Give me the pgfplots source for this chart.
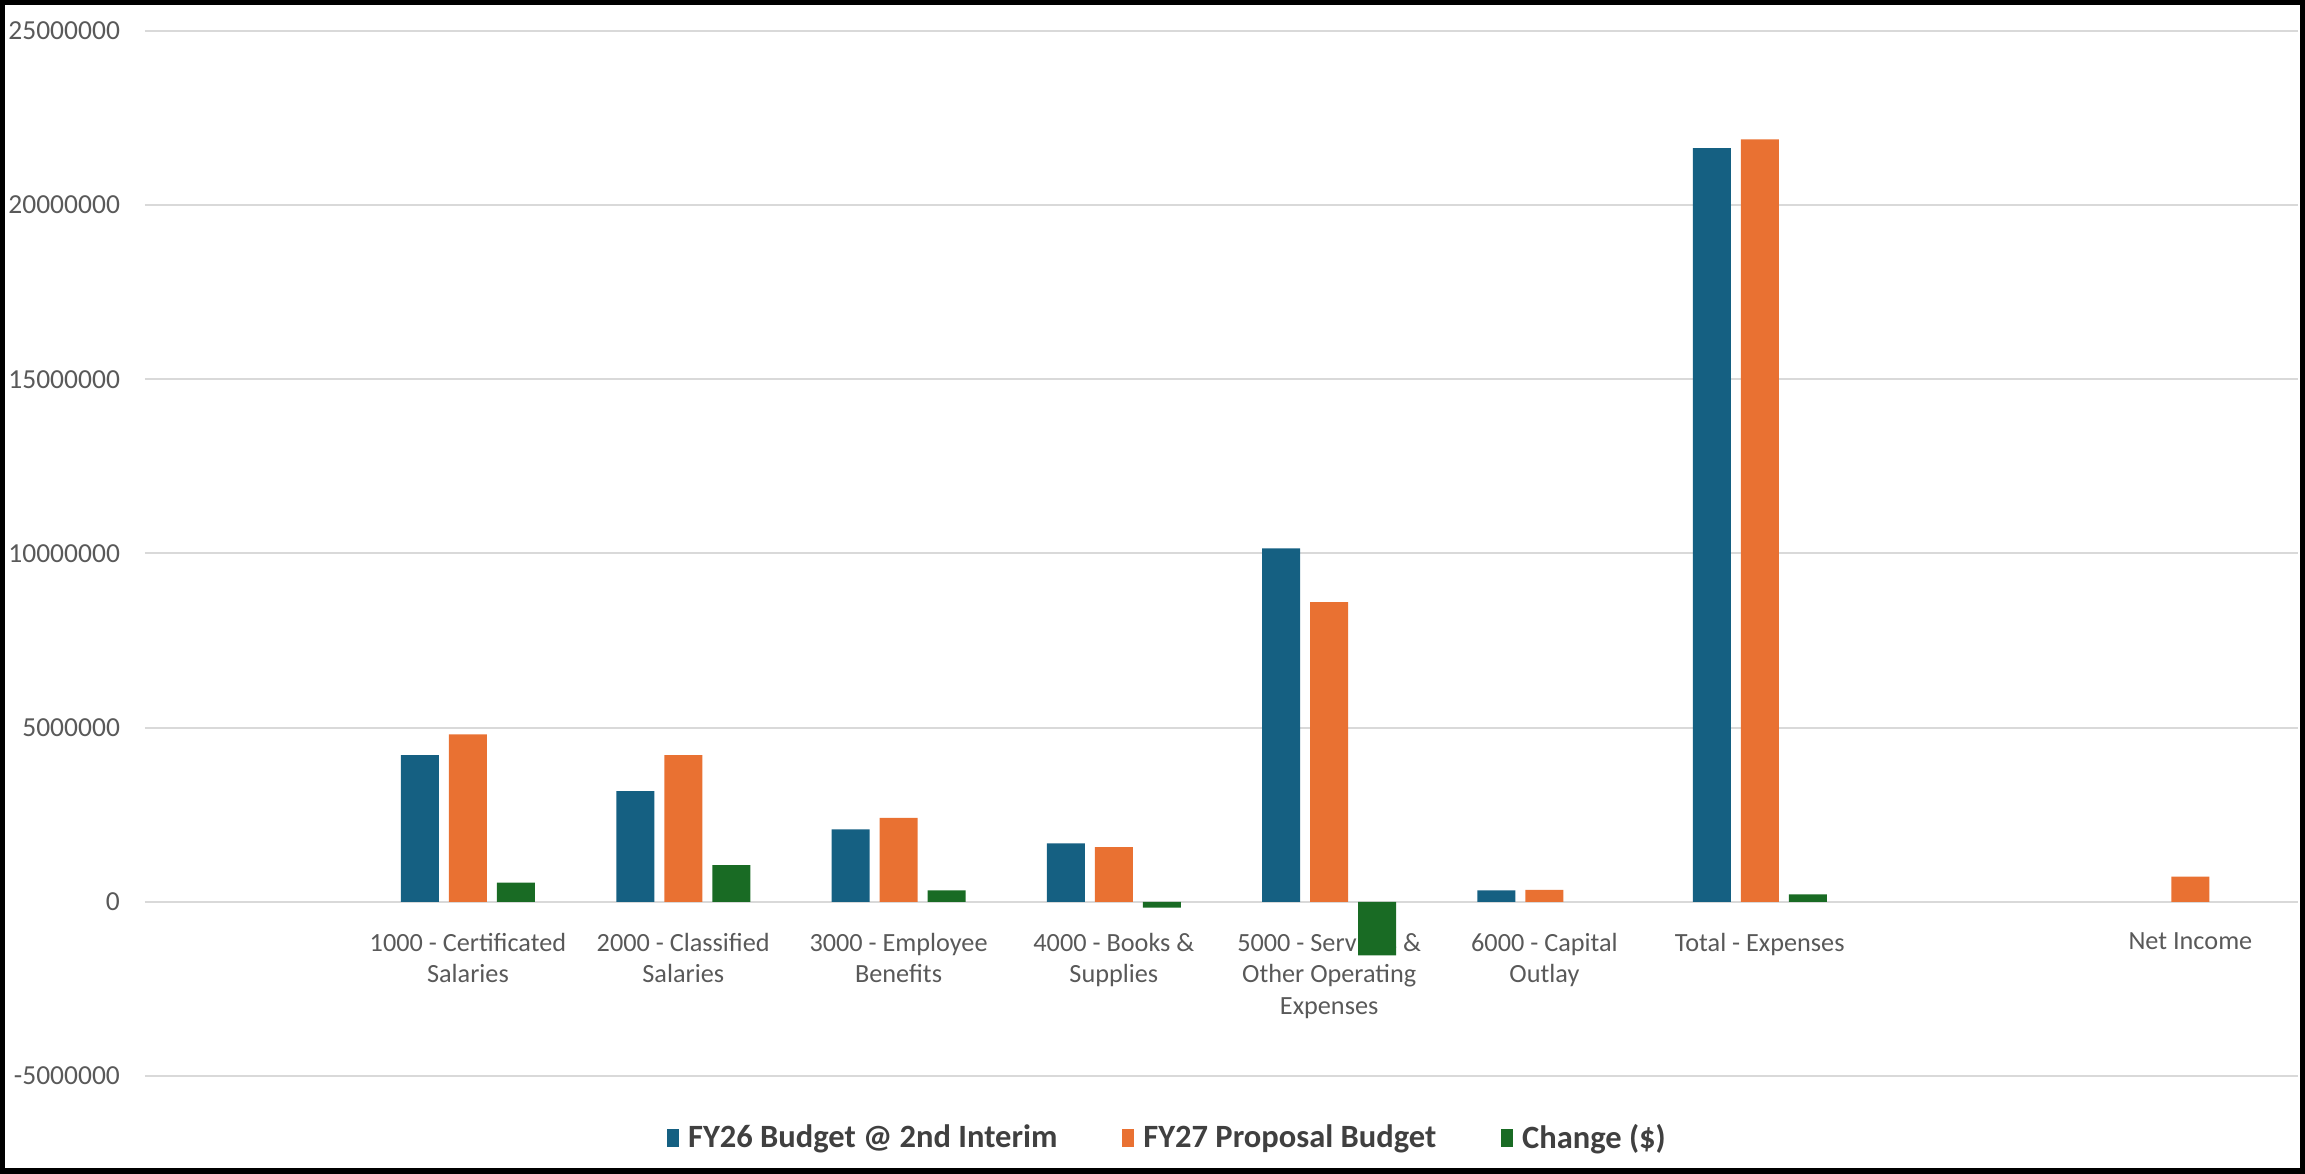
\documentclass[border=0pt]{standalone}
\usepackage{pgfplots}
\pgfplotsset{compat=1.18}
\usepackage{fontspec}
\setmainfont{Carlito}
\definecolor{cblue}{HTML}{156082}
\definecolor{corange}{HTML}{E97132}
\definecolor{cgreen}{HTML}{196B24}
\definecolor{tickgray}{HTML}{595959}
\definecolor{leggray}{HTML}{404040}
\definecolor{gridgray}{HTML}{D9D9D9}
\pgfplotsset{sqleg/.style={legend image code/.code={\fill[##1] (0pt,-3.6pt) rectangle (4.8pt,3.6pt); \path (6.4pt,0pt);}}}
\begin{document}
\begin{tikzpicture}
\begin{axis}[
  set layers=standard,
  scale only axis, width=861.2pt, height=418pt,
  ybar=4pt, bar width=15.2pt,
  xmin=-0.5, xmax=9.5,
  ymin=-5000000, ymax=25000000,
  ytick={-5000000,0,5000000,10000000,15000000,20000000,25000000},
  scaled y ticks=false,
  /pgf/number format/fixed,
  /pgf/number format/1000 sep={},
  /pgf/number format/assume math mode=true,
  xtick={0,...,9},
  xticklabels={{},{1000 - Certificated\\Salaries},{2000 - Classified\\Salaries},{3000 - Employee\\Benefits},{4000 - Books \&\\Supplies},{5000 - Services \&\\Other Operating\\Expenses},{6000 - Capital\\Outlay},{Total - Expenses},{},{Net Income}},
  x tick label style={align=center, font=\fontsize{10.5}{12.7}\selectfont, text=tickgray, anchor=north, yshift=65pt},
  y tick label style={font=\fontsize{11}{13}\selectfont, text=tickgray, anchor=east, xshift=-6.5pt},
  axis line style={draw=none},
  major tick style={draw=none},
  ymajorgrids, major grid style={gridgray, line width=0.8pt},
  legend style={at={(axis description cs:0.4756,-0.0593)}, anchor=center, draw=none, fill=none,
    legend columns=-1, font=\bfseries\fontsize{13}{15}\selectfont, text=leggray,
    /tikz/every even column/.append style={column sep=24pt}},
]
\addplot[fill=cblue, draw=none, sqleg] coordinates {(1,4210000) (2,3180000) (3,2080000) (4,1680000) (5,10150000) (6,330000) (7,21640000)};
\addplot[fill=corange, draw=none, sqleg] coordinates {(1,4810000) (2,4210000) (3,2410000) (4,1570000) (5,8600000) (6,340000) (7,21890000) (9,720000)};
\addplot[fill=cgreen, draw=none, sqleg] coordinates {(1,550000) (2,1050000) (3,330000) (4,-170000) (5,-1540000) (7,210000)};
\legend{FY26 Budget @ 2nd Interim, FY27 Proposal Budget, Change (\$)}
\coordinate (bl) at (rel axis cs:0,0);
\coordinate (tr) at (rel axis cs:1,1);
\end{axis}
\pgfresetboundingbox
\useasboundingbox ([xshift=-58pt,yshift=-39.2pt]bl) rectangle ([xshift=2.8pt,yshift=12.4pt]tr);
\draw[black, line width=2.2pt] ([xshift=-58pt+1.1pt,yshift=-39.2pt+1.1pt]bl) rectangle ([xshift=2.8pt-1.1pt,yshift=12.4pt-1.1pt]tr);
\end{tikzpicture}
\end{document}
